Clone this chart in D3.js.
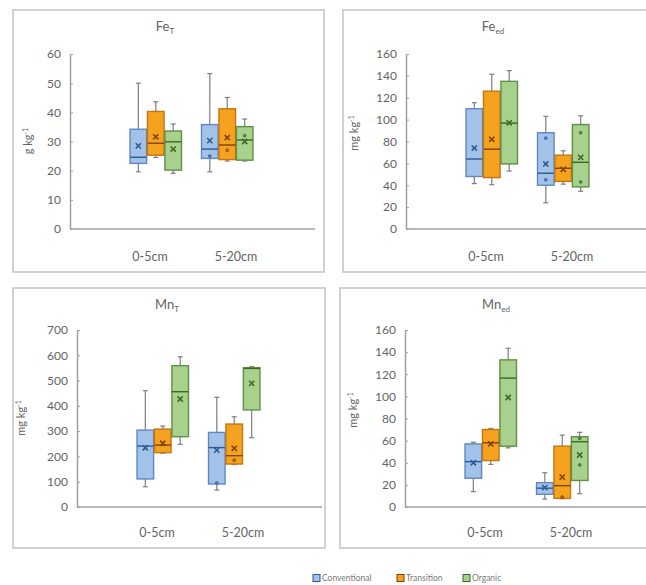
<!DOCTYPE html>
<html>
<head>
<meta charset="utf-8">
<script src="https://cdn.jsdelivr.net/npm/d3@7"></script>
<style>
  body { margin: 0; background: #fff; }
  svg { display: block; font-family: Lato, "Open Sans", "Liberation Sans", sans-serif; }
</style>
</head>
<body>
<svg id="chart" width="646" height="585"></svg>
<script>
// Soil depth classes and management systems
const categories = ["0-5cm", "5-20cm"];
const series = ["Conventional", "Transition", "Organic"];

// Box statistics per depth, per system: [min, q1, median, q3, max, mean]
const feT = [
  [[19.6, 22.5, 24.6, 34.2, 50.0, 28.5], [24.5, 25.3, 29.4, 40.3, 43.6, 31.6], [19.1, 20.2, 29.9, 33.6, 36.0, 27.4]],
  [[19.6, 24.2, 27.4, 35.8, 53.3, 30.3], [23.3, 23.8, 28.8, 41.2, 45.1, 31.3], [23.3, 23.6, 30.5, 35.1, 37.7, 30.0]]
];
const feEd = [
  [[41.5, 48.0, 64.0, 110.0, 115.5, 74.0], [40.5, 47.0, 73.0, 126.0, 141.5, 82.0], [53.0, 59.5, 96.8, 135.0, 144.8, 97.0]],
  [[24.0, 40.0, 51.0, 88.0, 103.0, 59.5], [41.0, 43.5, 55.5, 67.5, 71.5, 54.5], [34.5, 38.5, 61.0, 95.5, 103.5, 65.5]]
];
const mnT = [
  [[80, 111, 241, 304, 460, 234], [213, 215, 245, 308, 320, 252], [248, 278, 456, 559, 594, 427]],
  [[67, 91, 235, 295, 434, 225], [168, 170, 203, 328, 357, 232], [274, 384, 548, 551, 555, 489]]
];
const mnEd = [
  [[13.9, 26.0, 41.0, 57.0, 58.5, 40.0], [38.5, 42.0, 58.0, 70.0, 71.0, 57.0], [53.5, 55.0, 116.5, 133.0, 143.5, 99.0]],
  [[7.2, 11.5, 17.0, 22.0, 31.0, 17.5], [7.5, 7.8, 19.3, 55.0, 65.0, 27.0], [12.0, 24.0, 59.0, 63.5, 67.5, 47.0]]
];

// Individual observations shown inside the boxes: [depth, system, value]
const feTPoints = [[1, 0, 25], [1, 1, 27], [1, 2, 32]];
const feEdPoints = [[1, 0, 83], [1, 0, 45], [1, 2, 88], [1, 2, 43]];
const mnTPoints = [[1, 0, 95], [1, 1, 185]];
const mnEdPoints = [[1, 2, 38], [1, 2, 62], [1, 1, 9]];

// Axis tick values
const feTTicks = [0, 10, 20, 30, 40, 50, 60];
const feEdTicks = [0, 20, 40, 60, 80, 100, 120, 140, 160];
const mnTTicks = [0, 100, 200, 300, 400, 500, 600, 700];
const mnEdTicks = [0, 20, 40, 60, 80, 100, 120, 140, 160];

// Panel layout
const panels = [
  { title: "Fe", sub: "T", unit: "g kg", data: feT, pts: feTPoints, ticks: feTTicks,
    frame: [13, 10, 311, 262], x0: 70, y0: 229, yTop: 54, labX: 32, labY: 141, titleX: 165, titleY: 31, catY: 261 },
  { title: "Fe", sub: "ed", unit: "mg kg", data: feEd, pts: feEdPoints, ticks: feEdTicks,
    frame: [343, 10, 310, 262], x0: 406, y0: 229, yTop: 54, labX: 358, labY: 133, titleX: 493, titleY: 31, catY: 261 },
  { title: "Mn", sub: "T", unit: "mg kg", data: mnT, pts: mnTPoints, ticks: mnTTicks,
    frame: [13, 288, 312, 260], x0: 77, y0: 507, yTop: 330, labX: 25, labY: 418, titleX: 167, titleY: 309, catY: 537 },
  { title: "Mn", sub: "ed", unit: "mg kg", data: mnEd, pts: mnEdPoints, ticks: mnEdTicks,
    frame: [340, 288, 313, 260], x0: 405, y0: 507, yTop: 330, labX: 357, labY: 410, titleX: 496, titleY: 309, catY: 537 }
];

const fills = ["#a3c2e9", "#f5a21f", "#a9d18e"];
const strokes = ["#5f88c2", "#c47512", "#5f8f47"];
const darks = ["#2e5a92", "#804300", "#3a6a28"];
const textColor = "#646464";
const axisColor = "#a0a0a0";

const svg = d3.select("#chart");

function drawPanel(p) {
  const g = svg.append("g");

  g.append("rect")
    .attr("x", p.frame[0]).attr("y", p.frame[1])
    .attr("width", p.frame[2]).attr("height", p.frame[3])
    .attr("fill", "none").attr("stroke", "#c6c6c6").attr("stroke-width", 1.6);

  const y = d3.scaleLinear().domain([0, d3.max(p.ticks)]).range([p.y0, p.yTop]);
  const x = d3.scaleBand().domain(categories)
    .range([p.x0, p.x0 + 243]).paddingInner(0.28).paddingOuter(0.84);
  const xs = d3.scaleBand().domain(series).range([0, x.bandwidth()]).paddingInner(0.05);
  const xl = d3.scalePoint().domain(categories).range([p.x0 + 80, p.x0 + 166]);

  // Value axis
  const ya = g.append("g")
    .attr("transform", `translate(${p.x0},0)`)
    .call(d3.axisLeft(y).tickValues(p.ticks).tickSizeInner(-3).tickSizeOuter(0).tickPadding(9));
  ya.select(".domain").attr("stroke", axisColor).attr("stroke-width", 1.5);
  ya.selectAll(".tick line").attr("stroke", axisColor).attr("stroke-width", 1);
  ya.selectAll(".tick text").attr("fill", textColor).attr("font-size", 12)
    .attr("font-family", "Lato, sans-serif");

  // Category axis
  g.append("line")
    .attr("x1", p.x0).attr("x2", p.x0 + 245)
    .attr("y1", y(0)).attr("y2", y(0))
    .attr("stroke", axisColor).attr("stroke-width", 1.5);
  g.selectAll(".cat").data(categories).join("text")
    .attr("x", d => xl(d)).attr("y", p.catY)
    .attr("text-anchor", "middle").attr("fill", textColor).attr("font-size", 12.5)
    .text(d => d);

  // Title
  const t = g.append("text")
    .attr("x", p.titleX).attr("y", p.titleY)
    .attr("text-anchor", "middle").attr("fill", textColor).attr("font-size", 13);
  t.append("tspan").text(p.title);
  t.append("tspan").attr("font-size", 8).attr("dy", 3).text(p.sub);

  // Unit label
  const u = g.append("text")
    .attr("transform", `translate(${p.labX},${p.labY}) rotate(-90)`)
    .attr("text-anchor", "middle").attr("fill", textColor).attr("font-size", 11);
  u.append("tspan").text(p.unit);
  u.append("tspan").attr("font-size", 7).attr("dy", -4).text("-1");

  // Boxes
  categories.forEach((c, ci) => {
    series.forEach((s, si) => {
      const [mn, q1, md, q3, mx, mean] = p.data[ci][si];
      const bx = x(c) + xs(s);
      const w = xs.bandwidth();
      const cx = bx + w / 2;
      const bg = g.append("g");
      // whiskers
      bg.append("line").attr("x1", cx).attr("x2", cx).attr("y1", y(q3)).attr("y2", y(mx))
        .attr("stroke", "#7d7d7d").attr("stroke-width", 1.2);
      bg.append("line").attr("x1", cx).attr("x2", cx).attr("y1", y(q1)).attr("y2", y(mn))
        .attr("stroke", "#7d7d7d").attr("stroke-width", 1.2);
      [mn, mx].forEach(v => bg.append("line")
        .attr("x1", cx - 2.5).attr("x2", cx + 2.5).attr("y1", y(v)).attr("y2", y(v))
        .attr("stroke", "#7d7d7d").attr("stroke-width", 1.2));
      // box
      bg.append("rect")
        .attr("x", bx).attr("y", y(q3)).attr("width", w).attr("height", y(q1) - y(q3))
        .attr("fill", fills[si]).attr("stroke", strokes[si]).attr("stroke-width", 1.4);
      // median
      bg.append("line").attr("x1", bx).attr("x2", bx + w).attr("y1", y(md)).attr("y2", y(md))
        .attr("stroke", darks[si]).attr("stroke-width", 1.4);
      // mean marker
      const my = y(mean), r = 2.6;
      bg.append("path")
        .attr("d", `M${cx - r},${my - r}L${cx + r},${my + r}M${cx - r},${my + r}L${cx + r},${my - r}`)
        .attr("stroke", darks[si]).attr("stroke-width", 1.6);
    });
  });

  // Inner observations
  g.selectAll(".pt").data(p.pts).join("circle")
    .attr("cx", d => x(categories[d[0]]) + xs(series[d[1]]) + xs.bandwidth() / 2)
    .attr("cy", d => y(d[2]))
    .attr("r", 1.4)
    .attr("fill", d => strokes[d[1]])
    .attr("stroke", d => darks[d[1]]).attr("stroke-width", 0.8);
}

panels.forEach(drawPanel);

// Legend
const legendX = [313, 397, 463];
const lg = svg.append("g");
series.forEach((s, i) => {
  lg.append("rect").attr("x", legendX[i]).attr("y", 574.5).attr("width", 7).attr("height", 7)
    .attr("fill", fills[i]).attr("stroke", darks[i]).attr("stroke-width", 1);
  lg.append("text").attr("x", legendX[i] + 9).attr("y", 581)
    .attr("fill", "#7a7a7a").attr("font-size", 8.5).text(s);
});
</script>
</body>
</html>
